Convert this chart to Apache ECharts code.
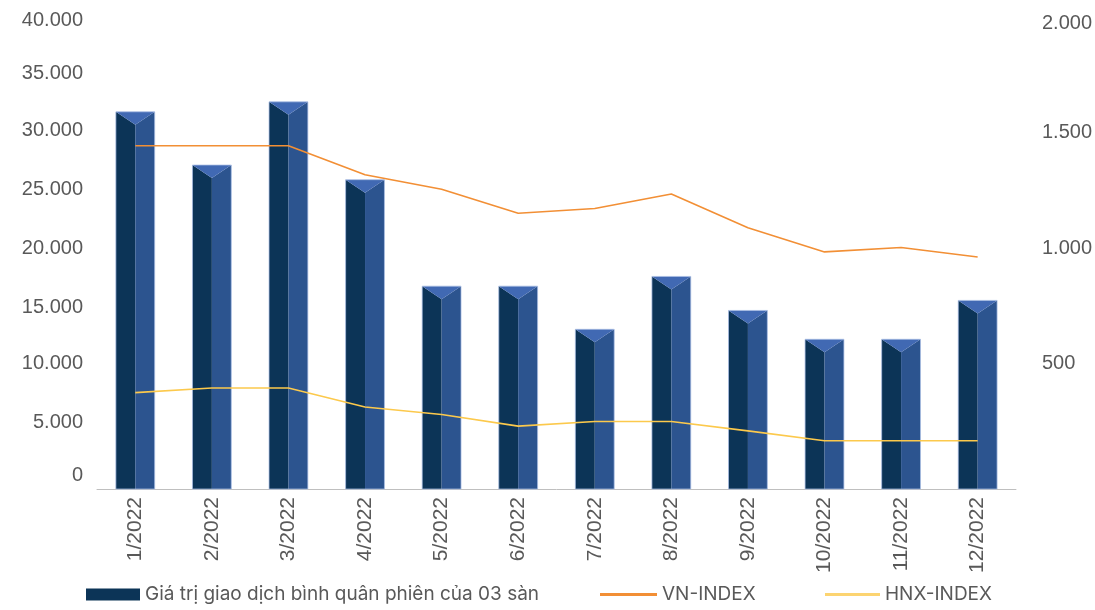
<!DOCTYPE html>
<html>
<head>
<meta charset="utf-8">
<script src="https://cdn.jsdelivr.net/npm/echarts@6/dist/echarts.min.js"></script>
<style>
html,body{margin:0;padding:0;background:#fff;}
#chart{width:1095px;height:610px;}
</style>
</head>
<body>
<div id="chart"></div>
<script>
const categories = ['1/2022','2/2022','3/2022','4/2022','5/2022','6/2022','7/2022','8/2022','9/2022','10/2022','11/2022','12/2022'];
const tradingValue = [32170, 27630, 33020, 26380, 17300, 17300, 13620, 18130, 15230, 12770, 12770, 16085];
const vnIndex = [1464, 1464, 1464, 1340, 1278, 1176, 1196, 1258, 1114, 1011, 1030, 989];
const hnxIndex = [411, 431, 431, 350, 318, 268, 288, 288, 248, 206, 206, 206];
const barName = 'Giá trị giao dịch bình quân phiên của 03 sàn';

const fmt = v => v === 0 ? '0' : String(v).replace(/\B(?=(\d{3})+(?!\d))/g, '.');

const chart = echarts.init(document.getElementById('chart'), null, {renderer: 'canvas'});
const textColor = '#595959';
const axisFont = 'Liberation Sans, Arial, sans-serif';
const legendFont = 'Inter, Noto Sans, sans-serif';

// small vertical nudges of tick labels (px, positive = up) as in the reference rendering
const leftNudge = {40000: 0, 35000: 5, 30000: 7, 25000: 6, 20000: 6, 15000: 6, 10000: 8, 5000: 8, 0: 14};
const rightNudge = {2000: -3, 1500: 5, 1000: 6, 500: 8, 0: 0};

function richFor(nudges) {
  const rich = {};
  Object.keys(nudges).forEach(k => {
    const n = nudges[k];
    rich['n' + k] = {
      color: textColor, fontSize: 20, fontFamily: axisFont,
      padding: n >= 0 ? [0, 0, 2 * n, 0] : [-2 * n, 0, 0, 0]
    };
  });
  return rich;
}

function renderBar(params, api) {
  const idx = api.value(0);
  const val = api.value(1);
  const top = api.coord([idx, val]);
  const base = api.coord([idx, 0]);
  const band = api.size([1, 0])[0];
  const w = band * 0.507;
  const L = top[0] - w / 2, R = top[0] + w / 2, C = top[0];
  const T = top[1], B = base[1];
  const d = 13;
  return {
    type: 'group',
    children: [
      {type: 'polygon', shape: {points: [[L, T], [C, T + d], [C, B], [L, B]]}, style: {fill: '#0c3457'}},
      {type: 'polygon', shape: {points: [[C, T + d], [R, T], [R, B], [C, B]]}, style: {fill: '#2c548f'}},
      {type: 'polygon', shape: {points: [[L, T], [R, T], [C, T + d]]}, style: {fill: '#4169b3'}},
      {type: 'rect', shape: {x: L, y: T, width: w, height: B - T}, style: {fill: 'none', stroke: 'rgba(170,190,228,0.75)', lineWidth: 1}}
    ]
  };
}

const legendText = {color: textColor, fontSize: 19, fontFamily: legendFont};

const option = {
  animation: false,
  backgroundColor: '#fff',
  grid: {left: 97, right: 79, top: 20, height: 469},
  legend: [
    {data: [{name: barName, icon: 'rect'}], left: 86, top: 585, padding: 0, itemWidth: 54, itemHeight: 12, itemGap: 7, textStyle: legendText},
    {data: [{name: 'VN-INDEX', icon: 'rect'}], left: 600, top: 585, padding: 0, itemWidth: 57, itemHeight: 3, itemGap: 6, textStyle: legendText},
    {data: [{name: 'HNX-INDEX', icon: 'rect'}], left: 825, top: 585, padding: 0, itemWidth: 55, itemHeight: 3, itemGap: 6, textStyle: legendText}
  ],
  xAxis: {
    type: 'category',
    data: categories,
    boundaryGap: true,
    axisLine: {show: true, lineStyle: {color: '#bfbfbf', width: 1}},
    axisTick: {show: false},
    splitLine: {show: false},
    axisLabel: {rotate: 90, margin: 8, color: textColor, fontSize: 21, fontFamily: axisFont, interval: 0}
  },
  yAxis: [
    {
      type: 'value', min: 0, max: 40000, interval: 5000,
      axisLine: {show: false}, axisTick: {show: false}, splitLine: {show: false},
      axisLabel: {margin: 14, color: textColor, fontSize: 20, fontFamily: axisFont,
                  formatter: v => '{n' + v + '|' + fmt(v) + '}', rich: richFor(leftNudge)}
    },
    {
      type: 'value', min: 0, max: 2000, interval: 500, position: 'right',
      axisLine: {show: false}, axisTick: {show: false}, splitLine: {show: false},
      axisLabel: {margin: 26, color: textColor, fontSize: 20, fontFamily: axisFont,
                  formatter: v => v === 0 ? '' : '{n' + v + '|' + fmt(v) + '}', rich: richFor(rightNudge)}
    }
  ],
  series: [
    {
      name: barName,
      type: 'custom',
      renderItem: renderBar,
      itemStyle: {color: '#0c3457'},
      encode: {x: 0, y: 1},
      data: tradingValue.map((v, i) => [i, v]),
      z: 1
    },
    {
      name: 'VN-INDEX', type: 'line', yAxisIndex: 1, data: vnIndex,
      symbol: 'none', lineStyle: {color: '#f28f35', width: 1.6}, itemStyle: {color: '#f28f35'}, z: 3
    },
    {
      name: 'HNX-INDEX', type: 'line', yAxisIndex: 1, data: hnxIndex,
      symbol: 'none', lineStyle: {color: '#fcc94c', width: 1.6}, itemStyle: {color: '#fcd471'}, z: 3
    }
  ]
};
chart.setOption(option);
</script>
</body>
</html>
